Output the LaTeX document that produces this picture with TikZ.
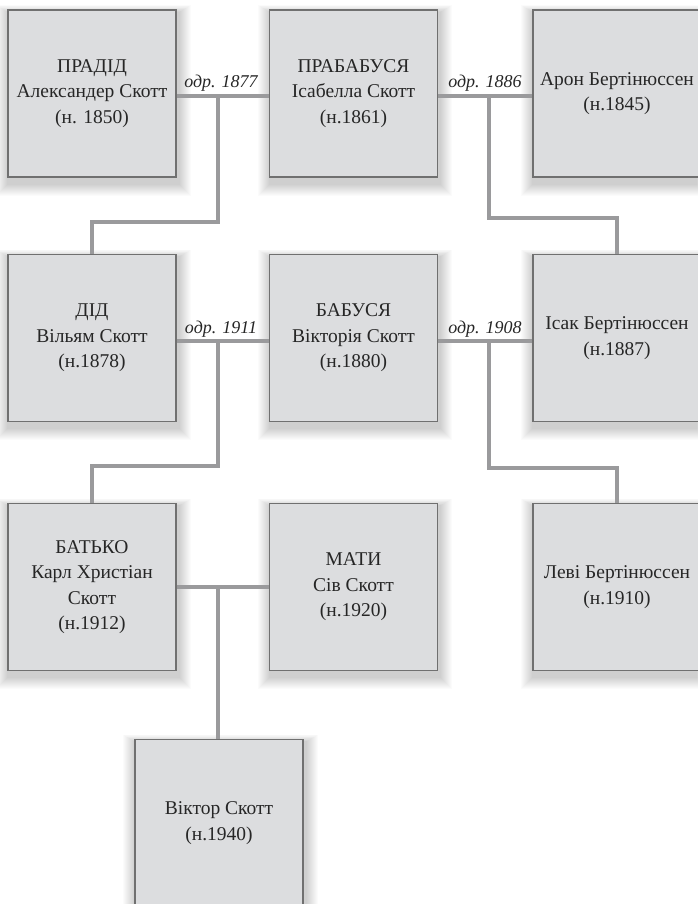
\documentclass[tikz,border=0pt]{standalone}
\usepackage{fontspec}
\setmainfont{Liberation Serif}
\definecolor{boxfill}{HTML}{DCDDDF}
\definecolor{boxline}{HTML}{707070}
\definecolor{conn}{HTML}{9A9A9C}
\definecolor{txt}{HTML}{262626}
\pgfdeclarelayer{bg}
\pgfsetlayers{bg,main}
\tikzset{
  person/.style={draw=boxline, line width=1.1pt, fill=boxfill, minimum width=168pt, minimum height=167pt,
    inner sep=0pt, align=center, text=txt, font=\fontsize{19.5}{25.5}\selectfont},
  link/.style={draw=conn, line width=3.1pt},
  wed/.style={anchor=base, text=txt, font=\fontsize{18}{20}\selectfont\itshape, inner sep=0pt},
  shadowlayer/.style={fill=black, fill opacity=0.017, draw=none}
}
\newcommand\boxshadow[1]{%
  \begin{pgfonlayer}{bg}
  \foreach \r in {1,...,12}{
    \fill[shadowlayer] ([xshift=1pt-\r*1pt, yshift=-6pt-\r*1pt]#1.south west)
      rectangle ([xshift=2pt+\r*1pt, yshift=-3pt+\r*0.6pt]#1.north east);
  }
  \end{pgfonlayer}}
\begin{document}
\begin{tikzpicture}[x=1pt,y=-1pt]
\useasboundingbox (0,0) rectangle (697,904);
\begin{pgfonlayer}{bg}
\fill[white] (0,0) rectangle (697,904);
\end{pgfonlayer}
% row 1
\node[person] (A) at (92,93.5) {ПРАДІД\\Александер Скотт\\(н. 1850)};
\node[person] (B) at (353.5,93.5) {ПРАБАБУСЯ\\Ісабелла Скотт\\(н.1861)};
\node[person] (C) at (617,93.5) {Арон Бертінюссен\\(н.1845)};
% row 2
\node[person] (D) at (92,338) {ДІД\\Вільям Скотт\\(н.1878)};
\node[person] (E) at (353.5,338) {БАБУСЯ\\Вікторія Скотт\\(н.1880)};
\node[person] (F) at (617,338) {Ісак Бертінюссен\\(н.1887)};
% row 3
\node[person] (G) at (92,587) {БАТЬКО\\Карл Христіан\\Скотт\\(н.1912)};
\node[person] (M) at (353.5,587) {МАТИ\\Сів Скотт\\(н.1920)};
\node[person] (H) at (617,587) {Леві Бертінюссен\\(н.1910)};
% row 4
\node[person] (V) at (219,823) {Віктор Скотт\\(н.1940)};
% shadows
\boxshadow{A}\boxshadow{B}\boxshadow{C}
\boxshadow{D}\boxshadow{E}\boxshadow{F}
\boxshadow{G}\boxshadow{M}\boxshadow{H}
\boxshadow{V}
% junctions
\coordinate (m1) at (218,96);  \coordinate (k1) at (218,222);
\coordinate (m2) at (489,96);  \coordinate (k2) at (489,218);
\coordinate (m3) at (218,341); \coordinate (k3) at (218,466);
\coordinate (m4) at (489,341); \coordinate (k4) at (489,468);
\coordinate (m5) at (218,587);
\draw[link] (A.east |- m1) -- (B.west |- m1);
\draw[link] (B.east |- m2) -- (C.west |- m2);
\draw[link] (D.east |- m3) -- (E.west |- m3);
\draw[link] (E.east |- m4) -- (F.west |- m4);
\draw[link] (G.east |- m5) -- (M.west |- m5);
\draw[link] (m1) -- (k1) -| (D.north);
\draw[link] (m2) -- (k2) -| (F.north);
\draw[link] (m3) -- (k3) -| (G.north);
\draw[link] (m4) -- (k4) -| (H.north);
\draw[link] (m5) -- (m5 |- V.north);
% marriage labels
\node[wed] (w1) at (221,88) {одр. 1877};
\node[wed] (w2) at (485,88) {одр. 1886};
\node[wed] (w3) at (221,333) {одр. 1911};
\node[wed] (w4) at (485,333) {одр. 1908};
\end{tikzpicture}
\end{document}
